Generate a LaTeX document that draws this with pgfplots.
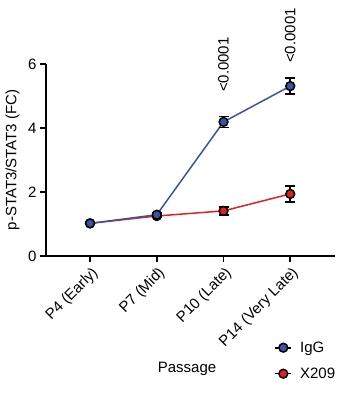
\documentclass[border=0pt]{standalone}
\usepackage{fontspec}
\setmainfont{Liberation Sans}
\usepackage{pgfplots}
\pgfplotsset{compat=1.18}
\definecolor{igg}{HTML}{3A53A4}
\definecolor{xred}{HTML}{E41E26}
\begin{document}
\begin{tikzpicture}
\path[use as bounding box] (0pt,0pt) rectangle (352pt,394pt);
\begin{axis}[
  at={(46pt,138pt)}, anchor=south west,
  scale only axis, width=289pt, height=192pt,
  xmin=-0.66, xmax=3.67, ymin=0, ymax=6,
  axis lines=left, axis line style={-, line width=1.6pt},
  xtick={0,1,2,3},
  xticklabels={P4 (Early),P7 (Mid),P10 (Late),P14 (Very Late)},
  ytick={0,2,4,6},
  tick style={line width=1.6pt, black},
  major tick length=6pt,
  tick align=outside,
  xticklabel style={rotate=45, anchor=north east, font=\fontsize{15}{17}\selectfont, inner sep=1pt, yshift=-2pt, xshift=-1pt},
  yticklabel style={font=\fontsize{15}{17}\selectfont},
  /pgf/number format/assume math mode=true,
  xlabel={Passage}, ylabel={p-STAT3/STAT3 (FC)},
  label style={font=\fontsize{15}{17}\selectfont},
  xlabel style={at={(axis description cs:0.488,-0.589)}, anchor=center},
  ylabel style={at={(axis description cs:-0.116,0.5)}, anchor=center},
  clip=false,
  reverse legend,
  legend image code/.code={\draw[black, line width=1.6pt] (0pt,0pt) -- (16pt,0pt); \draw[#1, mark repeat=1] plot coordinates {(8pt,0pt)};},
  legend style={draw=none, fill=none, at={(axis description cs:0.79,-0.435)}, anchor=north west, font=\fontsize{15}{17}\selectfont, row sep=10pt, inner sep=0pt},
  /tikz/every odd column/.append style={column sep=6pt},
  legend cell align=left,
]
\addplot[xred, line width=1.5pt, mark=*, mark size=4.4pt,
  mark options={fill=xred, draw=black, line width=1.5pt},
  error bars/.cd, y dir=both, y explicit,
  error bar style={black, line width=1.6pt},
  error mark options={rotate=90, mark size=5pt, black, line width=1.6pt}]
  coordinates {(0,1.02) +- (0,0.04) (1,1.25) +- (0,0.05) (2,1.41) +- (0,0.13) (3,1.94) +- (0,0.25)};
\addlegendentry{X209}
\addplot[igg, line width=1.5pt, mark=*, mark size=4.4pt,
  mark options={fill=igg, draw=black, line width=1.5pt},
  error bars/.cd, y dir=both, y explicit,
  error bar style={black, line width=1.6pt},
  error mark options={rotate=90, mark size=5pt, black, line width=1.6pt}]
  coordinates {(0,1.02) +- (0,0.04) (1,1.29) +- (0,0.05) (2,4.19) +- (0,0.17) (3,5.31) +- (0,0.25)};
\addlegendentry{IgG}
\node[rotate=90, anchor=west, inner sep=0pt, font=\fontsize{15}{17}\selectfont] at (axis cs:2,5.12) {<0.0001};
\node[rotate=90, anchor=west, inner sep=0pt, font=\fontsize{15}{17}\selectfont] at (axis cs:3,6.03) {<0.0001};
\end{axis}
\end{tikzpicture}
\end{document}
